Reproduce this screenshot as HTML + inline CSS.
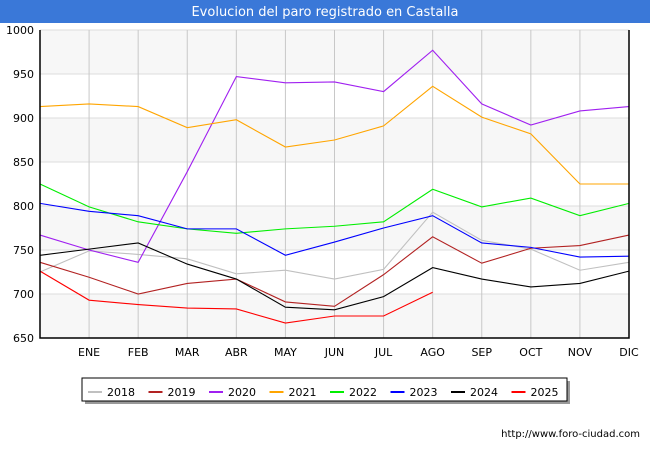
<!DOCTYPE html>
<html><head><meta charset="utf-8"><style>
body{margin:0;background:#fff;font-family:"Liberation Sans","DejaVu Sans",sans-serif}
</style></head><body>
<svg width="650" height="450" xmlns="http://www.w3.org/2000/svg" font-family="DejaVu Sans, Liberation Sans, sans-serif">
<rect x="0" y="0" width="650" height="450" fill="#fff"/>
<rect x="0" y="0" width="650" height="23" fill="#3a78d8"/>
<text x="325" y="16" text-anchor="middle" fill="#fff" font-size="13">Evolucion del paro registrado en Castalla</text>
<g id="bands"></g><g id="grid"></g><g id="series"></g><g id="axes"></g>
<text x="640" y="437" text-anchor="end" font-size="10" fill="#000">http://www.foro-ciudad.com</text>
<g id="legend"></g>
</svg>
<script>
const months=["","ENE","FEB","MAR","ABR","MAY","JUN","JUL","AGO","SEP","OCT","NOV","DIC"];
const yTicks=[650,700,750,800,850,900,950,1000];
const years=["2018","2019","2020","2021","2022","2023","2024","2025"];
const colors=["#c0c0c0","#b22222","#a020f0","#ffa500","#00ee00","#0000ff","#000000","#ff0000"];
const s2018=[725,749,745,740,723,727,717,728,793,761,751,727,736];
const s2019=[736,719,700,712,717,691,686,722,765,735,752,755,767];
const s2020=[767,750,736,839,947,940,941,930,977,916,892,908,913];
const s2021=[913,916,913,889,898,867,875,891,936,901,882,825,825];
const s2022=[825,799,782,774,769,774,777,782,819,799,809,789,803];
const s2023=[803,794,789,774,774,744,759,775,789,758,753,742,743];
const s2024=[744,751,758,734,717,685,682,697,730,717,708,712,726];
const s2025=[726,693,688,684,683,667,675,675,702];
const allSeries=[s2018,s2019,s2020,s2021,s2022,s2023,s2024,s2025];
const X0=40,X1=629,Y0=338,Y1=30,VMIN=650,VMAX=1000;
const xs=i=>X0+i*(X1-X0)/(months.length-1);
const ys=v=>Y0-(v-VMIN)*(Y0-Y1)/(VMAX-VMIN);
const NS="http://www.w3.org/2000/svg";
function mk(tag,attrs,parent){const e=document.createElementNS(NS,tag);for(const k in attrs)e.setAttribute(k,attrs[k]);parent.appendChild(e);return e;}
const bands=document.getElementById('bands'),grid=document.getElementById('grid'),ser=document.getElementById('series'),axes=document.getElementById('axes'),leg=document.getElementById('legend');
for(let i=0;i<yTicks.length-1;i+=2){
 const r=mk('rect',{x:X0,y:ys(yTicks[i+1]),width:X1-X0,height:ys(yTicks[i])-ys(yTicks[i+1]),fill:'#f7f7f7'},bands);
 
 
}
yTicks.forEach(t=>{
 const l=mk('line',{x1:X0,x2:X1,y1:ys(t),y2:ys(t),stroke:'#dddddd','stroke-width':1},grid);
 
 
 const tx=mk('text',{x:X0-6,y:ys(t)+4,'text-anchor':'end','font-size':11,fill:'#000'},axes);
 tx.textContent=t;
 
 
});
months.forEach((m,i)=>{
 if(i>0){const l=mk('line',{x1:xs(i),x2:xs(i),y1:Y1,y2:Y0,stroke:'#c8c8c8','stroke-width':1},grid);
 
 }
 const tx=mk('text',{x:xs(i),y:356,'text-anchor':'middle','font-size':11,fill:'#000'},axes);
 tx.textContent=m;
 
 
});
allSeries.forEach((s,k)=>{
 const p=mk('polyline',{points:s.map((v,i)=>xs(i)+','+ys(v)).join(' '),fill:'none',stroke:colors[k],'stroke-width':1.1},ser);
 
 
});
const fr=mk('polyline',{points:`${X0},${Y1} ${X0},${Y0} ${X1},${Y0} ${X1},${Y1}`,fill:'none',stroke:'#000','stroke-width':1.5},axes);


mk('rect',{x:85,y:381,width:485,height:23,fill:'#999'},leg);
const lb=mk('rect',{x:82,y:378,width:485,height:23,fill:'#fff',stroke:'#000','stroke-width':1},leg);


years.forEach((y,k)=>{
 const x=88+k*60.5;
 const g=mk('g',{},leg);
 
 
 mk('line',{x1:x,x2:x+14,y1:392,y2:392,stroke:colors[k],'stroke-width':2},g);
 const t=mk('text',{x:x+19,y:396,'font-size':11,fill:'#000'},g);
 t.textContent=y;
});
</script>
</body></html>
